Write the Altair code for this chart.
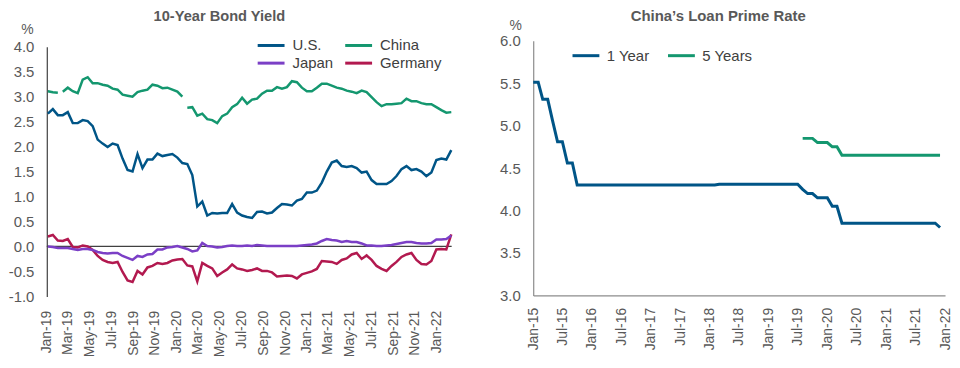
import altair as alt
import pandas as pd

FONT = "Liberation Sans"
GRAY = "#595959"

# ---------------- Left panel: 10-Year Bond Yield (bi-weekly observations) ----------------
bond_dates = pd.date_range("2019-01-04", periods=82, freq="14D")

us = [2.66, 2.75, 2.63, 2.63, 2.69, 2.47, 2.47, 2.53, 2.51, 2.41,
      2.14, 2.06, 1.99, 2.06, 2.03, 1.76, 1.53, 1.50, 1.85, 1.57,
      1.74, 1.74, 1.86, 1.81, 1.83, 1.85, 1.78, 1.67, 1.65, 1.43,
      0.80, 0.90, 0.62, 0.67, 0.66, 0.67, 0.67, 0.85, 0.68, 0.62,
      0.59, 0.57, 0.69, 0.70, 0.66, 0.68, 0.77, 0.85, 0.84, 0.82,
      0.92, 0.95, 1.08, 1.08, 1.12, 1.28, 1.50, 1.68, 1.72, 1.61,
      1.59, 1.61, 1.57, 1.48, 1.50, 1.33, 1.25, 1.25, 1.25, 1.31,
      1.41, 1.55, 1.61, 1.53, 1.55, 1.50, 1.41, 1.48, 1.73, 1.76,
      1.74, 1.93]

china = [3.11, 3.09, 3.08, 3.10, 3.18, 3.11, 3.07, 3.34, 3.39, 3.27,
         3.27, 3.24, 3.22, 3.16, 3.14, 3.04, 3.02, 3.00, 3.09, 3.12,
         3.14, 3.24, 3.22, 3.17, 3.18, 3.14, 3.10, 3.00, 2.78, 2.79,
         2.62, 2.66, 2.55, 2.53, 2.47, 2.61, 2.66, 2.79, 2.85, 2.98,
         2.86, 2.94, 2.96, 3.06, 3.12, 3.12, 3.19, 3.16, 3.19, 3.31,
         3.29, 3.18, 3.11, 3.11, 3.18, 3.26, 3.26, 3.22, 3.18, 3.16,
         3.12, 3.10, 3.07, 3.12, 3.09, 2.99, 2.89, 2.81, 2.85, 2.85,
         2.86, 2.87, 2.96, 2.91, 2.91, 2.87, 2.85, 2.85, 2.79, 2.73,
         2.68, 2.69]
china_gap_dates = ["2019-02-08", "2020-01-24"]

japan = [0.00, -0.01, -0.03, -0.03, -0.03, -0.05, -0.07, -0.05, -0.05, -0.07,
         -0.11, -0.13, -0.14, -0.13, -0.13, -0.19, -0.23, -0.27, -0.19, -0.21,
         -0.16, -0.15, -0.06, -0.06, -0.02, -0.01, 0.01, -0.02, -0.05, -0.10,
         -0.08, 0.07, 0.01, 0.00, -0.02, -0.01, 0.01, 0.02, 0.01, 0.01,
         0.02, 0.01, 0.03, 0.02, 0.01, 0.01, 0.01, 0.01, 0.01, 0.01,
         0.01, 0.02, 0.03, 0.04, 0.06, 0.11, 0.15, 0.13, 0.12, 0.09,
         0.11, 0.09, 0.09, 0.06, 0.02, 0.02, 0.01, 0.01, 0.02, 0.03,
         0.05, 0.07, 0.09, 0.09, 0.07, 0.06, 0.06, 0.07, 0.14, 0.14,
         0.15, 0.22]

germany = [0.20, 0.23, 0.12, 0.11, 0.15, -0.01, -0.02, 0.02, 0.00, -0.07,
           -0.19, -0.27, -0.31, -0.33, -0.31, -0.51, -0.68, -0.71, -0.49, -0.56,
           -0.42, -0.39, -0.33, -0.35, -0.33, -0.28, -0.26, -0.25, -0.38, -0.40,
           -0.70, -0.33, -0.39, -0.44, -0.59, -0.52, -0.46, -0.36, -0.44, -0.46,
           -0.49, -0.47, -0.44, -0.49, -0.49, -0.52, -0.60, -0.59, -0.58, -0.59,
           -0.64, -0.56, -0.53, -0.50, -0.45, -0.29, -0.30, -0.31, -0.35, -0.27,
           -0.24, -0.16, -0.13, -0.25, -0.18, -0.27, -0.39, -0.45, -0.49, -0.39,
           -0.31, -0.21, -0.16, -0.13, -0.27, -0.35, -0.36, -0.29, -0.06, -0.05,
           -0.06, 0.24]

bond_series = ["U.S.", "China", "Japan", "Germany"]
bond_colors = ["#005587", "#14976F", "#7B3FC6", "#B2194F"]
bond_ticks = ["2019-01", "2019-03", "2019-05", "2019-07", "2019-09", "2019-11",
              "2020-01", "2020-03", "2020-05", "2020-07", "2020-09", "2020-11",
              "2021-01", "2021-03", "2021-05", "2021-07", "2021-09", "2021-11",
              "2022-01"]
bond_yticks = [-1.0, -0.5, 0.0, 0.5, 1.0, 1.5, 2.0, 2.5, 3.0, 3.5, 4.0]

# ---------------- Right panel: China's Loan Prime Rate (monthly) ----------------
lpr_months = pd.date_range("2015-01-01", periods=84, freq="MS")
lpr_1y = [
    5.51, 5.51, 5.31, 5.31, 5.06, 4.81, 4.81, 4.56, 4.56, 4.30, 4.30, 4.30,  # 2015
    4.30, 4.30, 4.30, 4.30, 4.30, 4.30, 4.30, 4.30, 4.30, 4.30, 4.30, 4.30,  # 2016
    4.30, 4.30, 4.30, 4.30, 4.30, 4.30, 4.30, 4.30, 4.30, 4.30, 4.30, 4.30,  # 2017
    4.30, 4.30, 4.31, 4.31, 4.31, 4.31, 4.31, 4.31, 4.31, 4.31, 4.31, 4.31,  # 2018
    4.31, 4.31, 4.31, 4.31, 4.31, 4.31, 4.31, 4.25, 4.20, 4.20, 4.15, 4.15,  # 2019
    4.15, 4.05, 4.05, 3.85, 3.85, 3.85, 3.85, 3.85, 3.85, 3.85, 3.85, 3.85,  # 2020
    3.85, 3.85, 3.85, 3.85, 3.85, 3.85, 3.85, 3.85, 3.85, 3.85, 3.85, 3.80,  # 2021
]
lpr_5y_months = pd.date_range("2019-08-01", periods=29, freq="MS")
lpr_5y = [
    4.85, 4.85, 4.85, 4.80, 4.80,                                            # 2019
    4.80, 4.75, 4.75, 4.65, 4.65, 4.65, 4.65, 4.65, 4.65, 4.65, 4.65, 4.65,  # 2020
    4.65, 4.65, 4.65, 4.65, 4.65, 4.65, 4.65, 4.65, 4.65, 4.65, 4.65, 4.65,  # 2021
]
lpr_series = ["1 Year", "5 Years"]
lpr_colors = ["#005587", "#14976F"]
lpr_ticks = ["2015-01", "2015-07", "2016-01", "2016-07", "2017-01", "2017-07",
             "2018-01", "2018-07", "2019-01", "2019-07", "2020-01", "2020-07",
             "2021-01", "2021-07", "2022-01"]
lpr_yticks = [3.0, 3.5, 4.0, 4.5, 5.0, 5.5, 6.0]


def dt(s, day=1):
    return alt.DateTime(year=int(s[:4]), month=int(s[5:7]), date=day)


MINUS_FIX = "replace(datum.label, '\u2212', '-')"
# legend line symbol: a horizontal stroke 27px long drawn with a small symbol size
LINE_SYMBOL = "M-2.7,0H2.7"

# ---- build left data ----
rows = []
for name, vals in zip(bond_series, [us, china, japan, germany]):
    for d, v in zip(bond_dates, vals):
        rows.append({"date": d, "series": name, "value": v})
for d in china_gap_dates:
    rows.append({"date": pd.Timestamp(d), "series": "China", "value": None})
bond_df = pd.DataFrame(rows).sort_values(["series", "date"]).reset_index(drop=True)

zero_df = pd.DataFrame({"value": [0.0]})

bond_yscale = alt.Scale(domain=[-1, 4], range=[257, 6], nice=False, zero=False)
bond_yaxis = alt.Axis(values=bond_yticks, format=".1f", labelExpr=MINUS_FIX,
                      labelFontSize=15, labelColor=GRAY, labelPadding=13, labelOverlap=False,
                      labelBound=False,
                      domain=True, domainColor="#404040", domainWidth=1.2,
                      ticks=False, grid=False,
                      title="%", titleAngle=0, titleX=-20, titleY=-11, titleAlign="center",
                      titleBaseline="middle", titleFontSize=14, titleFontWeight="normal",
                      titleColor=GRAY)

left_x = alt.X(
    "date:T",
    scale=alt.Scale(domain=[dt("2019-01"), dt("2022-02", 12)]),
    axis=alt.Axis(values=[dt(s) for s in bond_ticks], format="%b-%y", labelAngle=-90,
                  labelFontSize=14, labelColor=GRAY, labelPadding=14, labelOverlap=False,
                  labelFlush=False, domain=False, ticks=False, grid=False, title=None),
)
left_y = alt.Y("value:Q", scale=bond_yscale, axis=bond_yaxis)

zero_rule = alt.Chart(zero_df).mark_rule(color="#404040", strokeWidth=1.2).encode(y=left_y)

bond_lines = alt.Chart(bond_df).mark_line(strokeWidth=2.5).encode(
    x=left_x,
    y=left_y,
    color=alt.Color(
        "series:N",
        scale=alt.Scale(domain=bond_series, range=bond_colors),
        legend=alt.Legend(title=None, orient="none", legendX=218, legendY=-3, columns=2,
                          direction="horizontal",
                          symbolType=LINE_SYMBOL, symbolSize=100, symbolStrokeWidth=3,
                          labelFontSize=15, labelColor="#404040", labelOffset=14,
                          columnPadding=6, rowPadding=2, padding=0),
    ),
)

left = alt.layer(zero_rule, bond_lines).properties(
    width=407, height=257,
    title=alt.TitleParams("10-Year Bond Yield", fontSize=14.7, fontWeight="bold", color=GRAY,
                          anchor="middle", frame="group", dx=-30, offset=-1),
)

# ---- build right data ----
rows = []
for d, v in zip(lpr_months, lpr_1y):
    rows.append({"date": d, "tenor": "1 Year", "rate": v})
for d, v in zip(lpr_5y_months, lpr_5y):
    rows.append({"date": d, "tenor": "5 Years", "rate": v})
lpr_df = pd.DataFrame(rows)

right = alt.Chart(lpr_df).mark_line(strokeWidth=3).encode(
    x=alt.X(
        "date:T",
        scale=alt.Scale(domain=[dt("2015-01"), dt("2022-01")]),
        axis=alt.Axis(values=[dt(s) for s in lpr_ticks], format="%b-%y", labelAngle=-90,
                      labelFontSize=14, labelColor=GRAY, labelPadding=12, labelOverlap=False,
                      labelFlush=False, domain=True, domainColor="#8C8C8C", domainWidth=1.2,
                      ticks=False, grid=False, title=None),
    ),
    y=alt.Y(
        "rate:Q",
        scale=alt.Scale(domain=[3, 6], nice=False, zero=False),
        axis=alt.Axis(values=lpr_yticks, format=".1f", labelFontSize=15, labelColor=GRAY,
                      labelPadding=13, labelOverlap=False,
                      domain=True, domainColor="#8C8C8C", domainWidth=1.2,
                      ticks=False, grid=False,
                      title="%", titleAngle=0, titleX=-18, titleY=-15, titleAlign="center",
                      titleBaseline="middle", titleFontSize=14, titleFontWeight="normal",
                      titleColor=GRAY),
    ),
    color=alt.Color(
        "tenor:N",
        scale=alt.Scale(domain=lpr_series, range=lpr_colors),
        legend=alt.Legend(title=None, orient="none", legendX=38, legendY=0,
                          direction="horizontal",
                          symbolType="stroke", symbolSize=729, symbolStrokeWidth=3,
                          labelFontSize=15, labelColor="#404040", labelOffset=6,
                          columnPadding=12, padding=0),
    ),
).properties(
    width=414, height=256,
    title=alt.TitleParams("China\u2019s Loan Prime Rate", fontSize=15, fontWeight="bold",
                          color=GRAY, anchor="middle", frame="group", dx=-21, offset=-5),
)

chart = (
    alt.hconcat(left, right, spacing=43)
    .resolve_scale(color="independent")
    .properties(padding={"left": 0, "right": 0, "top": 0, "bottom": 0})
    .configure(font=FONT)
    .configure_view(stroke=None)
)

chart.save("out.html", embed_options={"renderer": "svg", "actions": False})
